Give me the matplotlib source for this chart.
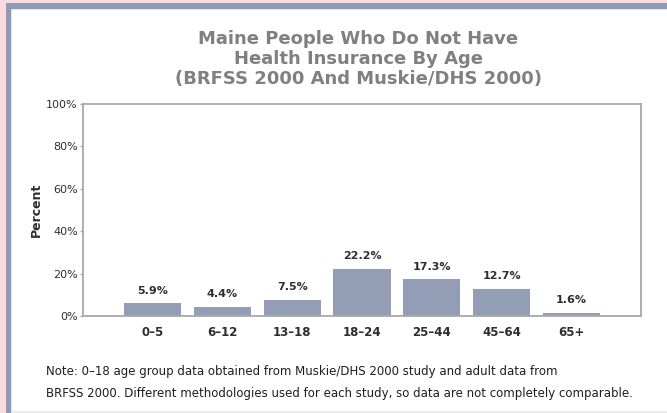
import matplotlib
matplotlib.use("Agg")
import matplotlib.pyplot as plt
from matplotlib.patches import Rectangle
from matplotlib.ticker import FuncFormatter

# Data
age_groups = ["0\u20135", "6\u201312", "13\u201318", "18\u201324", "25\u201344", "45\u201364", "65+"]
uninsured_pct = [5.9, 4.4, 7.5, 22.2, 17.3, 12.7, 1.6]
y_ticks = [0, 20, 40, 60, 80, 100]
title_lines = ["Maine People Who Do Not Have",
               "Health Insurance By Age",
               "(BRFSS 2000 And Muskie/DHS 2000)"]
note_lines = ["Note: 0\u201318 age group data obtained from Muskie/DHS 2000 study and adult data from",
              "BRFSS 2000. Different methodologies used for each study, so data are not completely comparable."]

W, H = 667, 413
BAR = "#939eb6"
PINK = "#f9dbdb"
SPINE = "#a8a8a8"
TEXT = "#2e2e2e"

fig = plt.figure(figsize=(W / 100, H / 100), dpi=100, facecolor=PINK)

def px_rect(x0, y0, x1, y1, color, z):
    # rectangle given in pixel coords measured from the top-left corner
    fig.patches.append(Rectangle((x0 / W, 1 - y1 / H), (x1 - x0) / W, (y1 - y0) / H,
                                 transform=fig.transFigure, facecolor=color,
                                 edgecolor="none", zorder=z))

px_rect(6, 3.3, W, H, "#8f9bb5", 0)
px_rect(10.7, 9.3, W, H, "#dfe5ef", 1)
px_rect(11.7, 10.3, W, H, "white", 2)
px_rect(11.7, 411.3, W, H, "#ebebeb", 3)

ax_l, ax_r, ax_t, ax_b = 83, 641, 104, 316
ax = fig.add_axes([ax_l / W, 1 - ax_b / H, (ax_r - ax_l) / W, (ax_b - ax_t) / H])
ax.set_zorder(10)
ax.set_facecolor("white")

x = list(range(len(age_groups)))
bars = ax.bar(x, uninsured_pct, width=0.82, color=BAR, edgecolor="none")
for xi, v in zip(x, uninsured_pct):
    ax.annotate(f"{v}%", (xi, v), xytext=(0, 5.5), textcoords="offset points",
                ha="center", va="bottom", fontsize=8, fontweight="bold",
                color=TEXT, family="DejaVu Sans")

ax.set_xlim(-1, 7)
ax.set_ylim(0, 100)
ax.set_xticks(x)
ax.set_xticklabels(age_groups, fontsize=8.5, fontweight="bold", color=TEXT)
ax.set_yticks(y_ticks)
ax.yaxis.set_major_formatter(FuncFormatter(lambda v, _: f"{int(v)}%"))
ax.tick_params(axis="x", length=0, pad=7)
ax.tick_params(axis="y", length=2.2, width=1, color=SPINE, pad=1.5,
               labelsize=8, labelcolor=TEXT)
for s in ax.spines.values():
    s.set_color(SPINE)
    s.set_linewidth(1.3)

ax.set_ylabel("Percent", fontsize=9, fontweight="bold", color=TEXT, va="center")
ax.yaxis.set_label_coords((36 - ax_l) / (ax_r - ax_l), 0.5)

for i, line in enumerate(title_lines):
    fig.text(358 / W, 1 - (39.5 + 19.5 * i) / H, line, ha="center", va="center",
             fontsize=13, fontweight="bold", color="#808080",
             family="DejaVu Sans", zorder=5)

for i, line in enumerate(note_lines):
    fig.text(46 / W, 1 - (371 + 22 * i) / H, line, ha="left", va="center",
             fontsize=8.5, color="#1e1e1e", family="DejaVu Sans", zorder=5)

fig.savefig("out.png", dpi=100, facecolor=PINK)
